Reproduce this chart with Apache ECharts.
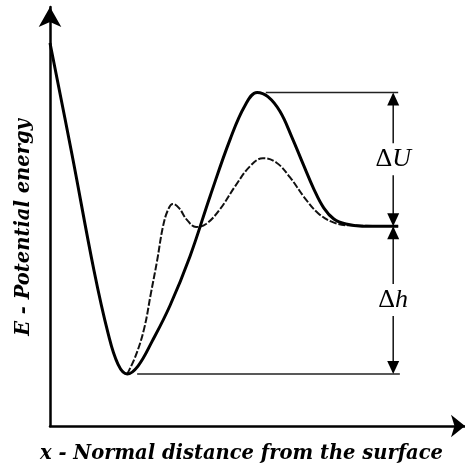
<!DOCTYPE html>
<html>
<head>
<meta charset="utf-8">
<script src="https://cdn.jsdelivr.net/npm/echarts@6/dist/echarts.min.js"></script>
<style>
  html, body { margin: 0; padding: 0; background: #fff; }
  #chart { width: 465px; height: 469px; }
</style>
</head>
<body>
<div id="chart"></div>
<script>
// Potential energy of a particle vs. its normal distance from a surface (arbitrary units)

// Solid curve: direct approach with a single barrier
const solidX = [0.00, 0.53, 1.06, 1.40, 1.64, 1.86, 2.12, 2.46, 2.89, 3.37, 3.86, 4.34, 4.70, 4.99, 5.25, 5.54, 5.83, 6.10, 6.36, 6.60, 6.84, 7.13, 7.52, 8.39];
const solidE = [9.14, 6.48, 3.71, 2.21, 1.47, 1.24, 1.43, 2.02, 2.87, 4.04, 5.49, 6.84, 7.65, 7.96, 7.86, 7.51, 6.89, 6.25, 5.65, 5.20, 4.94, 4.82, 4.77, 4.77];

// Dashed curve: path through an intermediate state
const dashedX = [1.86, 2.07, 2.27, 2.43, 2.58, 2.72, 2.84, 2.96, 3.11, 3.30, 3.52, 3.76, 4.10, 4.46, 4.82, 5.13, 5.45, 5.78, 6.14, 6.46, 6.80, 7.18, 8.39];
const dashedE = [1.24, 1.69, 2.33, 3.16, 3.94, 4.75, 5.15, 5.30, 5.20, 4.92, 4.75, 4.82, 5.18, 5.72, 6.20, 6.39, 6.29, 5.94, 5.44, 5.08, 4.87, 4.79, 4.77];

// Characteristic energy levels
const levelPeak = 7.96;
const levelFinal = 4.77;
const levelMin = 1.24;

// Horizontal guide extents (x start, x end)
const peakGuideX = [5.20, 8.39];
const minGuideX = [2.10, 8.43];

// Double-headed dimension arrows
const bracketX = 8.27;
const bracketSymbols = ['U', 'h'];

const axisTitleX = 'x - Normal distance from the surface';
const axisTitleE = 'E - Potential energy';

const zip = (xs, ys) => xs.map((x, i) => [x, ys[i]]);

const chart = echarts.init(document.getElementById('chart'), null, { renderer: 'canvas' });

const serif = '"Liberation Serif", "DejaVu Serif", serif';
const titleFont = '"DejaVu Serif", "Liberation Serif", serif';

function renderBracket(params, api) {
  const x = api.value(0);
  const top = api.coord([x, api.value(1)]);
  const bot = api.coord([x, api.value(2)]);
  const sym = bracketSymbols[api.value(3)];
  const px = top[0];
  const ah = 13, aw = 6;
  const midY = (top[1] + bot[1]) / 2;
  return {
    type: 'group',
    children: [
      { type: 'line', shape: { x1: px, y1: top[1] + 2, x2: px, y2: bot[1] - 2 },
        style: { stroke: '#111', lineWidth: 1.5 } },
      { type: 'polygon', shape: { points: [[px, top[1]], [px - aw, top[1] + ah], [px + aw, top[1] + ah]] },
        style: { fill: '#000' } },
      { type: 'polygon', shape: { points: [[px, bot[1]], [px - aw, bot[1] - ah], [px + aw, bot[1] - ah]] },
        style: { fill: '#000' } },
      { type: 'text', x: px, y: midY,
        style: {
          text: '{d|Δ}{v|' + sym + '}',
          align: 'center', verticalAlign: 'middle',
          backgroundColor: '#fff', padding: [3, 0, 3, 0],
          rich: {
            d: { fontFamily: serif, fontSize: 26, fill: '#000' },
            v: { fontFamily: serif, fontSize: 26, fontStyle: 'italic', fill: '#000' }
          }
        } }
    ]
  };
}

chart.setOption({
  animation: false,
  backgroundColor: '#fff',
  grid: { left: 50, right: 0, top: 7, bottom: 41 },
  xAxis: {
    type: 'value', min: 0, max: 10,
    name: axisTitleX, nameLocation: 'middle', nameGap: 18,
    nameTextStyle: { fontFamily: titleFont, fontSize: 19.5, fontWeight: 'bold', fontStyle: 'italic', color: '#000', padding: [0, 32, 0, 0] },
    axisLine: { show: true, onZero: false, symbol: ['none', 'arrow'], symbolSize: [17, 14], lineStyle: { color: '#000', width: 2.5 } },
    axisTick: { show: false }, axisLabel: { show: false }, splitLine: { show: false }
  },
  yAxis: {
    type: 'value', min: 0, max: 10,
    name: axisTitleE, nameLocation: 'middle', nameGap: 16, nameRotate: 90,
    nameTextStyle: { fontFamily: titleFont, fontSize: 19.5, fontWeight: 'bold', fontStyle: 'italic', color: '#000', padding: [0, 22, 0, 0] },
    axisLine: { show: true, onZero: false, symbol: ['none', 'arrow'], symbolSize: [17, 20], lineStyle: { color: '#000', width: 2.5 } },
    axisTick: { show: false }, axisLabel: { show: false }, splitLine: { show: false }
  },
  series: [
    {
      type: 'line', data: [[peakGuideX[0], levelPeak], [peakGuideX[1], levelPeak]],
      symbol: 'none', lineStyle: { color: '#222', width: 1.5 }, z: 1
    },
    {
      type: 'line', data: [[minGuideX[0], levelMin], [minGuideX[1], levelMin]],
      symbol: 'none', lineStyle: { color: '#222', width: 1.5 }, z: 1
    },
    {
      type: 'line', data: zip(dashedX, dashedE), smooth: 0.4,
      symbol: 'none', lineStyle: { color: '#111', width: 2, type: [7, 2] }, z: 2
    },
    {
      type: 'line', data: zip(solidX, solidE), smooth: 0.4,
      symbol: 'none', lineStyle: { color: '#000', width: 3 }, z: 3
    },
    {
      type: 'custom', renderItem: renderBracket, z: 4,
      data: [[bracketX, levelPeak, levelFinal, 0], [bracketX, levelFinal, levelMin, 1]]
    }
  ]
});
</script>
</body>
</html>
